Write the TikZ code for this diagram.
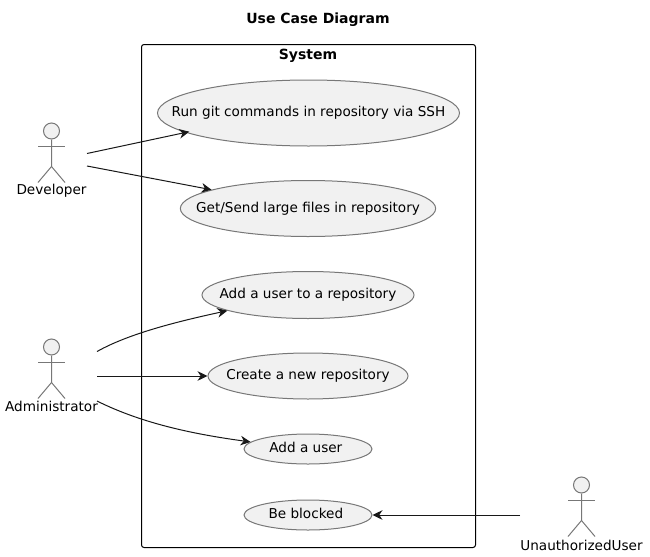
\documentclass[tikz,border=0pt]{standalone}
\usepackage{fontspec}
\setmainfont{DejaVu Sans}
\usetikzlibrary{arrows.meta,shapes.geometric}
\definecolor{puml}{HTML}{181818}
\definecolor{pline}{HTML}{777777}
\definecolor{pfill}{HTML}{F1F1F1}
\newcommand{\casetext}[1]{\raisebox{-2.7pt}[0pt][0pt]{\makebox[0pt]{#1}}}
\tikzset{
  usecase/.style={ellipse,draw=pline,fill=pfill,line width=0.75pt,inner sep=0pt,font=\fontsize{10.2}{12}\selectfont},
  head/.style={circle,draw=pline,fill=pfill,line width=0.75pt,inner sep=0pt,minimum size=12pt},
  limb/.style={draw=pline,line width=0.75pt},
  actorlabel/.style={inner sep=0pt,font=\fontsize{10.2}{12}\selectfont},
  titletext/.style={inner sep=0pt,font=\fontsize{10.5}{12}\selectfont\bfseries},
  link/.style={draw=puml,line width=0.75pt,-{Stealth[length=7.5pt,width=7.2pt,inset=2.4pt]}},
  sysbox/.style={draw=black,line width=0.75pt,rounded corners=1.9pt}
}
\newcommand{\stickman}[3]{% x, head y, name
  \node[head] (#3) at (#1,#2) {};
  \draw[limb] (#3.south) -- ++(0,27) -- ++(-13.5,16);
  \draw[limb] (#3.south) ++(0,27) -- ++(13.5,16);
  \draw[limb] (#3.south) ++(-13.5,7) -- ++(27,0);
}
\begin{document}
\begin{tikzpicture}[x=0.75pt,y=-0.75pt]
\useasboundingbox (0,0) rectangle (650,557);
\node[titletext] (title) at (318,19.5) {Use Case Diagram};
\draw[sysbox] (141.5,44.5) rectangle (475.5,547.5);
\node[titletext] (system) at (308,55.5) {System};

\stickman{51.5}{131}{dev}
\node[actorlabel] (devlabel) at (51.5,191) {Developer};
\stickman{51.5}{347}{adm}
\node[actorlabel] (admlabel) at (51.5,406.5) {Administrator};
\stickman{581.5}{485}{una}
\node[actorlabel] (unalabel) at (581.5,545.5) {UnauthorizedUser};

\coordinate (devA) at (87,153.5);
\coordinate (devB) at (87,166);
\coordinate (admA) at (97,351.5);
\coordinate (admB) at (97,376);
\coordinate (admC) at (97,401);
\coordinate (unaA) at (520,515);

\node[usecase,minimum width=226.5pt,minimum height=49.5pt] (run) at (308.5,113) {\casetext{Run git commands in repository via SSH}};
\node[usecase,minimum width=191.5pt,minimum height=42pt] (get) at (308,208.5) {\casetext{Get/Send large files in repository}};
\node[usecase,minimum width=159pt,minimum height=35.25pt] (addrepo) at (308,295) {\casetext{Add a user to a repository}};
\node[usecase,minimum width=150pt,minimum height=34.5pt] (create) at (308,376) {\casetext{Create a new repository}};
\node[usecase,minimum width=96pt,minimum height=22.5pt] (adduser) at (308,449) {\casetext{Add a user\ }};
\node[usecase,minimum width=96pt,minimum height=22.5pt] (blocked) at (308,515) {\casetext{Be blocked\ }};

\draw[link,shorten >=-3pt] (devA) -- (run.189.7);
\draw[link] (devB) -- (get.169.2);
\draw[link] (admA) .. controls (130,333) and (180,321) .. (addrepo.191.4);
\draw[link] (admB) -- (create.west);
\draw[link] (admC) .. controls (145,425) and (200,435) .. (adduser.173.4);
\draw[link] (unaA) -- (blocked.east);
\end{tikzpicture}
\end{document}
